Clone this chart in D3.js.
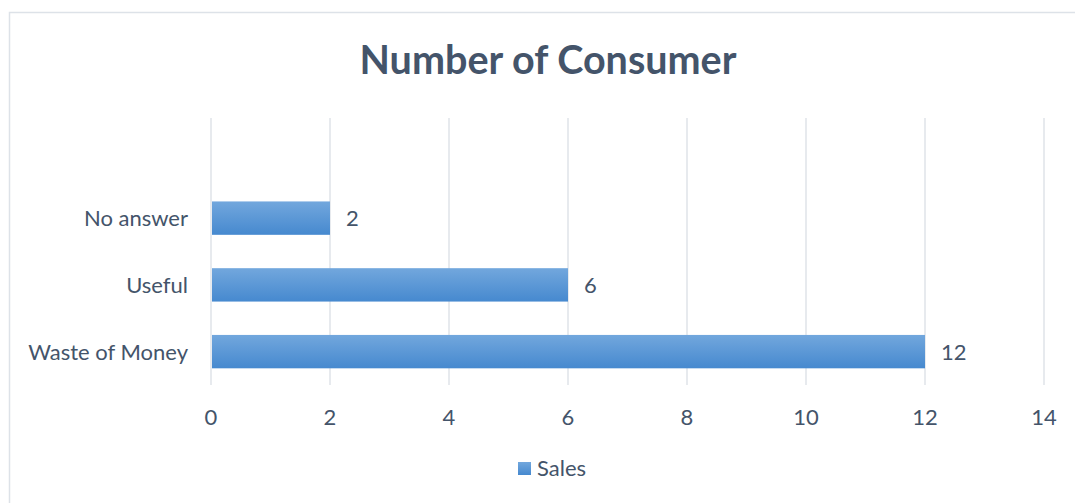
<!DOCTYPE html>
<html>
<head>
<meta charset="utf-8">
<script src="https://cdn.jsdelivr.net/npm/d3@7"></script>
<style>
  html, body { margin: 0; padding: 0; background: #ffffff; }
  svg { display: block; }
  text { font-family: Lato, "Open Sans", sans-serif; }
</style>
</head>
<body>
<svg id="chart" width="1075" height="503"></svg>
<script>
// Categories listed bottom-up as they appear on the vertical axis; the top slot is empty.
const categories = ["Waste of Money", "Useful", "No answer", ""];
const salesValues = [12, 6, 2, null];
const xTicks = [0, 2, 4, 6, 8, 10, 12, 14];
const seriesName = "Sales";
const chartTitle = "Number of Consumer";

const W = 1075, H = 503;
const margin = { left: 211, right: 31, top: 118, bottom: 118 };
const textColor = "#44546a";
const gridColor = "#dfe3e9";
const labelSize = 22;

const svg = d3.select("#chart");

// Chart area frame
svg.append("rect")
  .attr("x", 9.5).attr("y", 12.5)
  .attr("width", W + 20).attr("height", H + 20)
  .attr("fill", "#ffffff")
  .attr("stroke", "#dde2e8").attr("stroke-width", 1.5);

const defs = svg.append("defs");
const grad = defs.append("linearGradient")
  .attr("id", "barFill").attr("x1", 0).attr("y1", 0).attr("x2", 0).attr("y2", 1);
grad.append("stop").attr("offset", "0%").attr("stop-color", "#72a7dd");
grad.append("stop").attr("offset", "100%").attr("stop-color", "#4689cf");

const x = d3.scaleLinear().domain([0, 14]).range([margin.left, 1044]);
const y = d3.scaleBand()
  .domain(categories.slice().reverse())
  .range([margin.top, 385])
  .paddingInner(0.5).paddingOuter(0.25);

// Vertical gridlines
svg.append("g")
  .selectAll("line")
  .data(xTicks)
  .join("line")
  .attr("x1", d => x(d)).attr("x2", d => x(d))
  .attr("y1", margin.top).attr("y2", 385)
  .attr("stroke", gridColor).attr("stroke-width", 1.5);

// Bars
const rows = categories.map((c, i) => ({ c, v: salesValues[i] })).filter(d => d.v != null);
svg.append("g")
  .selectAll("rect")
  .data(rows)
  .join("rect")
  .attr("x", x(0) + 1)
  .attr("y", d => y(d.c))
  .attr("width", d => x(d.v) - x(0) - 1)
  .attr("height", y.bandwidth())
  .attr("fill", "url(#barFill)");

// Value labels
svg.append("g")
  .selectAll("text")
  .data(rows)
  .join("text")
  .attr("x", d => x(d.v) + 16)
  .attr("y", d => y(d.c) + y.bandwidth() / 2)
  .attr("dy", "0.36em")
  .attr("font-size", labelSize)
  .attr("fill", textColor)
  .text(d => d.v);

// Category axis labels
svg.append("g")
  .selectAll("text")
  .data(categories.filter(c => c !== ""))
  .join("text")
  .attr("x", 188)
  .attr("y", d => y(d) + y.bandwidth() / 2)
  .attr("dy", "0.36em")
  .attr("text-anchor", "end")
  .attr("font-size", labelSize)
  .attr("fill", textColor)
  .text(d => d);

// Value axis tick labels
svg.append("g")
  .selectAll("text")
  .data(xTicks)
  .join("text")
  .attr("x", d => x(d))
  .attr("y", 425)
  .attr("text-anchor", "middle")
  .attr("font-size", labelSize)
  .attr("fill", textColor)
  .text(d => d);

// Title
svg.append("text")
  .attr("x", 548).attr("y", 74)
  .attr("text-anchor", "middle")
  .attr("font-size", 39.5)
  .attr("font-weight", "bold")
  .attr("fill", textColor)
  .text(chartTitle);

// Legend
const lg = svg.append("g");
lg.append("rect")
  .attr("x", 518).attr("y", 462)
  .attr("width", 13).attr("height", 13)
  .attr("fill", "url(#barFill)");
lg.append("text")
  .attr("x", 537).attr("y", 476)
  .attr("font-size", labelSize)
  .attr("fill", textColor)
  .text(seriesName);
</script>
</body>
</html>
